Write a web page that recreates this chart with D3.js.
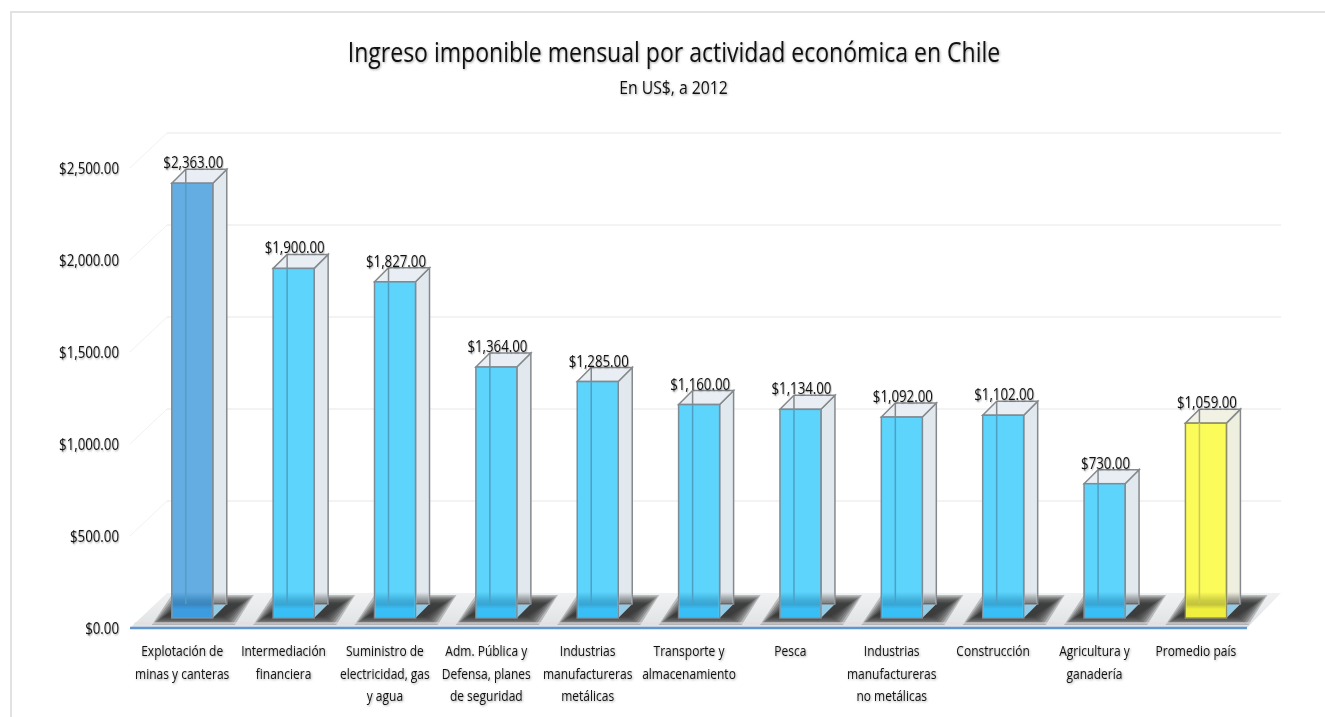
<!DOCTYPE html>
<html>
<head>
<meta charset="utf-8">
<script src="https://cdnjs.cloudflare.com/ajax/libs/d3/7.8.5/d3.min.js"></script>
<style>
html, body { margin: 0; background: #fff; }
text { font-family: "Open Sans", sans-serif; fill: #111; filter: drop-shadow(1px 1px 1px rgba(0,0,0,.35)); }
</style>
</head>
<body>
<div id="chart"></div>
<script>
const categories = [
  ["Explotación de", "minas y canteras"],
  ["Intermediación", "financiera"],
  ["Suministro de", "electricidad, gas", "y agua"],
  ["Adm. Pública y", "Defensa, planes", "de seguridad"],
  ["Industrias", "manufactureras", "metálicas"],
  ["Transporte y", "almacenamiento"],
  ["Pesca"],
  ["Industrias", "manufactureras", "no metálicas"],
  ["Construcción"],
  ["Agricultura y", "ganadería"],
  ["Promedio país"]
];
const values = [2363, 1900, 1827, 1364, 1285, 1160, 1134, 1092, 1102, 730, 1059];
const yTicks = [0, 500, 1000, 1500, 2000, 2500];

const width = 1325, height = 717;
const depthX = 37, depthY = 35, barDepth = 14, barW = 41, floorGap = 10;

const svg = d3.select("#chart").append("svg")
  .attr("width", width)
  .attr("height", height);

const defs = svg.append("defs");
const floorGrad = defs.append("linearGradient").attr("id", "floorGrad").attr("x1", 0).attr("x2", 0).attr("y1", 0).attr("y2", 1);
floorGrad.append("stop").attr("offset", 0).attr("stop-color", "#f0f1f2");
floorGrad.append("stop").attr("offset", 1).attr("stop-color", "#dfe2e4");

// foot of a bar: the shadow seen through the front face
function footGradient(id, dark, bright) {
  const g = defs.append("linearGradient").attr("id", id).attr("x1", 0).attr("x2", 0).attr("y1", 0).attr("y2", 1);
  g.append("stop").attr("offset", 0).attr("stop-color", dark).attr("stop-opacity", 0);
  g.append("stop").attr("offset", 0.35).attr("stop-color", dark).attr("stop-opacity", 0.85);
  g.append("stop").attr("offset", 0.5).attr("stop-color", dark);
  g.append("stop").attr("offset", 0.68).attr("stop-color", bright);
  g.append("stop").attr("offset", 1).attr("stop-color", bright);
}
footGradient("footFirst", "#3a86bd", "#3d9be0");
footGradient("footBar", "#38a6d4", "#38bff5");
footGradient("footAvg", "#c4c43c", "#eeee3e");

const sideShade = defs.append("linearGradient").attr("id", "sideShade").attr("x1", 0).attr("x2", 0).attr("y1", 0).attr("y2", 1);
sideShade.append("stop").attr("offset", 0).attr("stop-color", "#555").attr("stop-opacity", 0);
sideShade.append("stop").attr("offset", 1).attr("stop-color", "#555").attr("stop-opacity", 0.75);

const x = d3.scaleBand().domain(d3.range(values.length)).range([130, 1245]);
const y = d3.scaleLinear().domain([0, 2500]).range([628, 168]);
const fmt = d3.format("$,.2f");

const floorPath = `M130,${y(0)}L${130 + depthX},${y(0) - depthY}H1281L1247,${y(0)}Z`;
const barX = i => x(i) + x.bandwidth() / 2 - barW / 2 + 11.6;
const isAvg = i => i === values.length - 1;

// narrowed text, the original font is much more condensed than what is installed
function narrow(sel, px, py, sx) {
  sel.attr("transform", (d, i) => `translate(${px(d, i)},${py(d, i)}) scale(${sx},1)`);
}

// chart border
svg.append("path").attr("d", "M11,717V12H1325").attr("fill", "none").attr("stroke", "#e2e2e2").attr("stroke-width", 2);

// side wall
svg.append("g").selectAll("line")
  .data(yTicks.slice(1))
  .join("line")
  .attr("x1", 130).attr("y1", d => y(d))
  .attr("x2", 130 + depthX).attr("y2", d => y(d) - depthY)
  .attr("stroke", "#f1f1f1");
// back wall
svg.append("g").selectAll("line")
  .data(yTicks.slice(1))
  .join("line")
  .attr("x1", 130 + depthX).attr("y1", d => y(d) - depthY)
  .attr("x2", 1281).attr("y2", d => y(d) - depthY)
  .attr("stroke", "#efefef")
  .attr("stroke-width", 1.5);

// floor
svg.append("path").attr("d", floorPath).attr("fill", "url(#floorGrad)");
defs.append("clipPath").attr("id", "floorClip").append("path").attr("d", floorPath);

// shadows on the floor, soft edge built from stacked translucent layers
const shadowInsets = d3.range(0, 13, 2);
const shadows = svg.append("g").attr("clip-path", "url(#floorClip)")
  .selectAll("g")
  .data(values)
  .join("g");
shadows.each(function (d, i) {
  d3.select(this).selectAll("path")
    .data(shadowInsets)
    .join("path")
    .attr("fill", "#222")
    .attr("fill-opacity", 0.25)
    .attr("d", k => {
      const a = barX(i) - 20 + k, b = barX(i) + barW + 22 - k, t = y(0) - 33 + k * 0.7, h = y(0) - 3 - k * 0.7;
      return `M${a},${h}L${a + 20},${t}H${b + 19}L${b},${h}Z`;
    });
});

// front edge of the floor
svg.append("line")
  .attr("x1", 134).attr("x2", 1251)
  .attr("y1", y(0) - 5).attr("y2", y(0) - 5)
  .attr("stroke", "#e6d8da");

const bars = svg.append("g").selectAll("g")
  .data(values)
  .join("g");

// bottom of the box
bars.append("path")
  .attr("fill", "#93cbe6")
  .attr("d", (d, i) => {
    const l = barX(i), b = y(0) - floorGap;
    return `M${l},${b}L${l + barDepth},${b - barDepth}H${l + barW + barDepth}L${l + barW},${b}Z`;
  });
// side face, stops at the back edge so the bottom shows below it
bars.append("path")
  .attr("fill", (d, i) => isAvg(i) ? "#eeeedd" : "#dfe7ee")
  .attr("fill-opacity", 0.93)
  .attr("stroke", "#85898c")
  .attr("stroke-width", 1.5)
  .attr("d", (d, i) => {
    const r = barX(i) + barW, t = y(d) - floorGap, b = y(0) - floorGap;
    return `M${r},${t}L${r + barDepth},${t - barDepth}V${b - barDepth}H${r}Z`;
  });
bars.append("rect")
  .attr("x", (d, i) => barX(i) + barW + 1)
  .attr("y", y(0) - floorGap - barDepth - 12)
  .attr("width", barDepth - 2)
  .attr("height", 12)
  .attr("fill", "url(#sideShade)");
// top face
bars.append("path")
  .attr("fill", (d, i) => isAvg(i) ? "#f1f1e4" : "#e8eef3")
  .attr("stroke", "#85898c")
  .attr("stroke-width", 1.5)
  .attr("d", (d, i) => {
    const l = barX(i), t = y(d) - floorGap;
    return `M${l},${t}L${l + barDepth},${t - barDepth}H${l + barW + barDepth}L${l + barW},${t}Z`;
  });
// back edge across the top face
bars.append("line")
  .attr("x1", (d, i) => barX(i) + barDepth)
  .attr("x2", (d, i) => barX(i) + barDepth)
  .attr("y1", d => y(d) - floorGap - barDepth)
  .attr("y2", d => y(d) - floorGap)
  .attr("stroke", "#85898c")
  .attr("stroke-width", 1.5);
// front face
bars.append("rect")
  .attr("x", (d, i) => barX(i))
  .attr("y", d => y(d) - floorGap)
  .attr("width", barW)
  .attr("height", d => y(0) - y(d))
  .attr("fill", (d, i) => i === 0 ? "#64ade2" : isAvg(i) ? "#fbfb5a" : "#5cd4fb")
  .attr("stroke", (d, i) => isAvg(i) ? "#8f8f60" : "#7d8b96")
  .attr("stroke-width", 1.5);
bars.append("rect")
  .attr("x", (d, i) => barX(i) + 1)
  .attr("y", y(0) - floorGap - 26)
  .attr("width", barW - 2)
  .attr("height", 25)
  .attr("fill", (d, i) => i === 0 ? "url(#footFirst)" : isAvg(i) ? "url(#footAvg)" : "url(#footBar)");
// back edge showing through the front
bars.append("line")
  .attr("x1", (d, i) => barX(i) + barDepth)
  .attr("x2", (d, i) => barX(i) + barDepth)
  .attr("y1", d => y(d) - floorGap)
  .attr("y2", y(0) - floorGap - barDepth)
  .attr("stroke", (d, i) => isAvg(i) ? "#c9c95c" : "#4f9fc4")
  .attr("stroke-width", 1.5);

// axis baseline
svg.append("line")
  .attr("x1", 130).attr("x2", 1247)
  .attr("y1", y(0)).attr("y2", y(0))
  .attr("stroke", "#5f96cf")
  .attr("stroke-width", 2.5);

// value labels
bars.append("text")
  .attr("text-anchor", "middle")
  .attr("font-size", 17)
  .text(d => fmt(d))
  .call(narrow, (d, i) => barX(i) + barW / 2 + 1, d => y(d) - floorGap - 15, 0.78);

// y axis labels
svg.append("g").selectAll("text")
  .data(yTicks)
  .join("text")
  .attr("text-anchor", "end")
  .attr("font-size", 17)
  .text(d => fmt(d))
  .call(narrow, () => 119, d => y(d) + 6, 0.78);

// category labels, one text per line
const labelLines = categories.flatMap((lines, i) => lines.map((line, row) => ({ line, i, row })));
svg.append("g").selectAll("text")
  .data(labelLines)
  .join("text")
  .attr("text-anchor", "middle")
  .attr("font-size", 15)
  .text(d => d.line)
  .call(narrow, d => x(d.i) + x.bandwidth() / 2 + 1.5, d => 656 + d.row * 22.5, 0.8);

// titles
svg.append("text")
  .attr("text-anchor", "middle")
  .attr("font-size", 28)
  .text("Ingreso imponible mensual por actividad económica en Chile")
  .attr("transform", "translate(674,62) scale(0.823,1)");
svg.append("text")
  .attr("text-anchor", "middle")
  .attr("font-size", 19)
  .text("En US$, a 2012")
  .attr("transform", "translate(673.5,94) scale(0.83,1)");
</script>
</body>
</html>
